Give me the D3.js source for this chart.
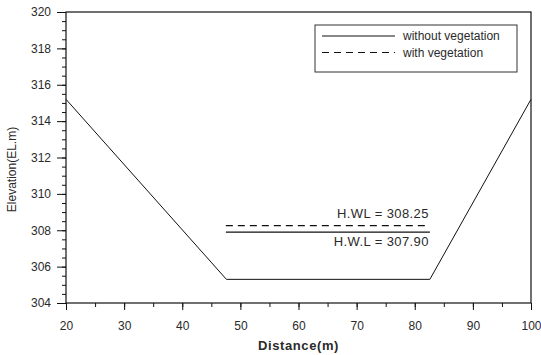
<!DOCTYPE html>
<html>
<head>
<meta charset="utf-8">
<script src="https://cdn.jsdelivr.net/npm/d3@7"></script>
<style>
  body { margin: 0; background: #fff; }
  svg { display: block; font-family: "Liberation Sans", Arial, sans-serif; }
  text { fill: #2a2a2a; }
</style>
</head>
<body>
<svg id="chart" width="541" height="355"></svg>
<script>
// channel cross section
const distance = [20, 47.6, 82.6, 100];
const elevation = [315.2, 305.3, 305.3, 315.2];

// high water levels
const hwl_names = ["without vegetation", "with vegetation"];
const hwl_levels = [307.90, 308.25];
const hwl_labels = ["H.W.L = 307.90", "H.WL = 308.25"];
const hwl_extent = [47.5, 82.6];

const x_ticks = [20, 30, 40, 50, 60, 70, 80, 90, 100];
const y_ticks = [304, 306, 308, 310, 312, 314, 316, 318, 320];

const chart_width = 541;
const chart_height = 355;
const margin = {top: 12, right: 10, bottom: 52, left: 66};
const innerWidth = chart_width - margin.left - margin.right;
const innerHeight = chart_height - margin.top - margin.bottom;

const svg = d3.select("#chart");
const g = svg.append("g")
             .attr("transform", `translate(${margin.left}, ${margin.top})`);

const xScale = d3.scaleLinear()
                 .domain([20, 100])
                 .range([0, innerWidth]);

const yScale = d3.scaleLinear()
                 .domain([304, 320])
                 .range([innerHeight, 0]);

// minor ticks first, then labelled majors on top
g.append("g")
 .attr("transform", `translate(0, ${innerHeight})`)
 .call(d3.axisBottom(xScale).tickValues(d3.range(20, 101, 5)).tickSize(4).tickFormat(""))
 .call(a => a.select(".domain").remove());

g.append("g")
 .call(d3.axisLeft(yScale).tickValues(d3.range(304, 320.1, 0.5)).tickSize(4).tickFormat(""))
 .call(a => a.select(".domain").remove());

const xAxis = g.append("g")
               .attr("id", "x-axis")
               .attr("transform", `translate(0, ${innerHeight})`)
               .call(d3.axisBottom(xScale).tickValues(x_ticks).tickSize(7).tickPadding(11));

const yAxis = g.append("g")
               .attr("id", "y-axis")
               .call(d3.axisLeft(yScale).tickValues(y_ticks).tickSize(9).tickPadding(6));

g.selectAll(".tick text")
 .attr("font-size", 12)
 .attr("font-family", "Liberation Sans, Arial, sans-serif")
 .attr("fill", "#2a2a2a");
g.selectAll(".tick line").attr("stroke", "#111");
g.selectAll(".domain").remove();

// frame
g.append("rect")
 .attr("width", innerWidth)
 .attr("height", innerHeight)
 .attr("fill", "none")
 .attr("stroke", "#111")
 .attr("stroke-width", 1.2);

// axis titles
g.append("text")
 .attr("x", innerWidth / 2)
 .attr("y", innerHeight + 47)
 .attr("text-anchor", "middle")
 .attr("font-size", 13)
 .attr("font-weight", "bold")
 .attr("letter-spacing", 0.6)
 .text("Distance(m)");

g.append("text")
 .attr("transform", `translate(${-50}, ${innerHeight / 2 + 12}) rotate(-90)`)
 .attr("text-anchor", "middle")
 .attr("font-size", 12)
 .text("Elevation(EL.m)");

// cross section line
const line = d3.line()
               .x((d, i) => xScale(distance[i]))
               .y(d => yScale(d));

g.append("path")
 .datum(elevation)
 .attr("d", line)
 .attr("fill", "none")
 .attr("stroke", "#111")
 .attr("stroke-width", 1);

// water levels
const dashes = ["none", "7,5"];
hwl_levels.forEach((lvl, i) => {
    g.append("line")
     .attr("x1", xScale(hwl_extent[0]))
     .attr("x2", xScale(hwl_extent[1]))
     .attr("y1", yScale(lvl))
     .attr("y2", yScale(lvl))
     .attr("stroke", "#111")
     .attr("stroke-width", 1.2)
     .attr("stroke-dasharray", dashes[i]);

    g.append("text")
     .attr("x", xScale(hwl_extent[1]) - 1)
     .attr("y", yScale(lvl) + (i === 0 ? 14 : -8))
     .attr("text-anchor", "end")
     .attr("font-size", 13)
     .attr("letter-spacing", 0.4)
     .text(hwl_labels[i]);
});

// legend
const legend = g.append("g")
                .attr("transform", `translate(${315 - margin.left}, ${25 - margin.top})`);

legend.append("rect")
      .attr("width", 202)
      .attr("height", 47)
      .attr("fill", "#fff")
      .attr("stroke", "#333")
      .attr("stroke-width", 1);

hwl_names.forEach((name, i) => {
    const ly = 11 + i * 16.5;
    legend.append("line")
          .attr("x1", 7)
          .attr("x2", 80)
          .attr("y1", ly)
          .attr("y2", ly)
          .attr("stroke", "#111")
          .attr("stroke-width", 1)
          .attr("stroke-dasharray", dashes[i]);
    legend.append("text")
          .attr("x", 88)
          .attr("y", ly + 4)
          .attr("font-size", 12)
          .text(name);
});
</script>
</body>
</html>
